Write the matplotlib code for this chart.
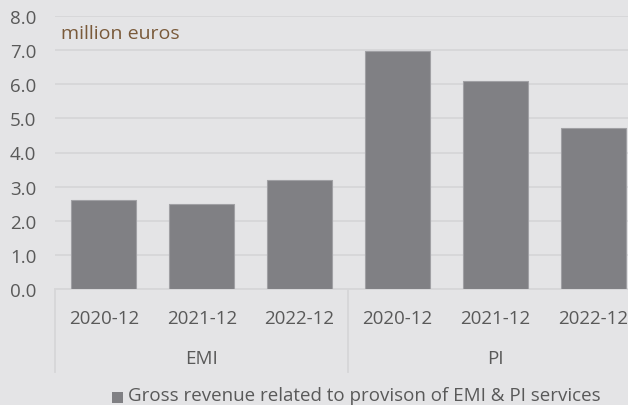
import matplotlib.pyplot as plt
from matplotlib.lines import Line2D
from matplotlib.patches import Rectangle

# values (million euros)
groups = ["EMI", "PI"]
periods = ["2020-12", "2021-12", "2022-12"]
emi_values = [2.61, 2.50, 3.20]
pi_values = [6.97, 6.09, 4.72]
legend_label = "Gross revenue related to provison of EMI & PI services"

BG = "#e4e4e6"
BAR = "#808084"
TXT = "#595959"
GRID = "#d6d6d8"

plt.rcParams["font.family"] = ["Open Sans", "DejaVu Sans"]

fig = plt.figure(figsize=(6.28, 4.06), dpi=100, facecolor=BG)
# axis spans past the right edge, as in the reference the chart is clipped
ax = fig.add_axes([55 / 628, 116 / 406, 587 / 628, 273 / 406], facecolor=BG)

values = emi_values + pi_values
xs = list(range(len(values)))
ax.bar(xs, values, width=0.665, color=BAR, edgecolor="#a0a0a4", linewidth=0.8, zorder=3)

ax.set_xlim(-0.5, len(values) - 0.5)
ax.set_ylim(0, 8)
ax.set_yticks([i for i in range(9)])
ax.set_yticklabels([f"{i:.1f}" for i in range(9)], color=TXT, fontsize=13.5)
ax.tick_params(axis="y", length=0, pad=13.5)
ax.grid(axis="y", color=GRID, linewidth=1.3, zorder=0)
ax.set_xticks([])
for s in ["top", "right", "left"]:
    ax.spines[s].set_visible(False)
ax.spines["bottom"].set_color(GRID)
ax.spines["bottom"].set_linewidth(1.3)

# two-level category labels
trans = ax.get_xaxis_transform()
for i, x in enumerate(xs):
    ax.text(x, -29 / 273, periods[i % len(periods)], transform=trans,
            ha="center", va="center", color=TXT, fontsize=13.5)
for g, name in enumerate(groups):
    ax.text(g * 3 + 1, -69 / 273, name, transform=trans,
            ha="center", va="center", color=TXT, fontsize=13.5)
for xb in [-0.5, 2.5]:
    ax.add_line(Line2D([xb, xb], [0, -83 / 273], transform=trans,
                       color=GRID, linewidth=1.3, clip_on=False))

ax.text(0.01, 7.5, "million euros", color="#7a5a3a", fontsize=14,
        ha="left", va="center", transform=ax.get_yaxis_transform())

fig.add_artist(Rectangle((112 / 628, 1 - 404 / 406), 11 / 628, 11 / 406,
                         transform=fig.transFigure, color=BAR, lw=0))
fig.text(128 / 628, 1 - 396 / 406, legend_label, color=TXT, fontsize=13.5,
         ha="left", va="center")

fig.savefig("out.png", dpi=100, facecolor=BG)
